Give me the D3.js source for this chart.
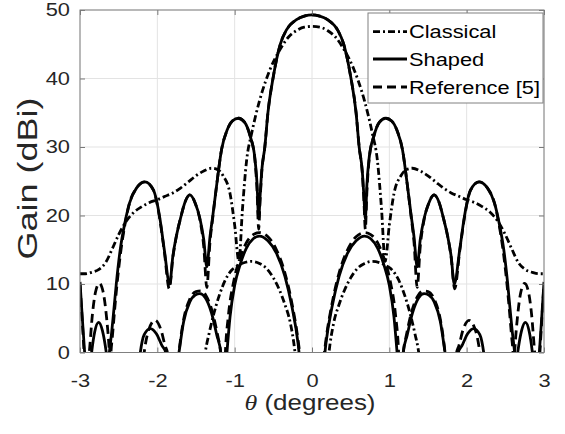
<!DOCTYPE html>
<html>
<head>
<meta charset="utf-8">
<script src="https://cdn.jsdelivr.net/npm/d3@7"></script>
<style>
  body { margin: 0; background: #fff; }
  svg { display: block; font-family: "Liberation Sans", Arial, sans-serif; }
</style>
</head>
<body>
<div id="chart"></div>
<script>
// theta in degrees, gain in dBi (values under 0 are below the axis and get clipped)
const classicalCo = [
  [-3.00,11.5],[-2.93,11.5],[-2.85,11.7],[-2.76,12.1],[-2.67,13.1],[-2.58,15.2],[-2.50,17.2],[-2.40,19.2],
  [-2.30,20.5],[-2.20,21.3],[-2.10,21.9],[-2.00,22.3],[-1.90,22.8],[-1.80,23.3],[-1.70,24.0],[-1.60,24.9],
  [-1.50,25.8],[-1.40,26.5],[-1.30,26.9],[-1.22,26.7],[-1.15,25.8],[-1.06,23.2],[-1.00,18.6],[-0.945,13.3],
  [-0.90,20.8],[-0.845,28.1],[-0.78,32.0],[-0.68,36.7],[-0.60,39.6],[-0.54,41.4],[-0.41,44.3],[-0.30,46.1],
  [-0.20,47.0],[-0.10,47.5],[0,47.6],
  [0.10,47.5],[0.20,47.0],[0.30,46.1],[0.41,44.3],[0.54,41.4],[0.60,39.6],[0.68,36.7],[0.78,32.0],
  [0.845,28.1],[0.90,20.8],[0.945,13.3],[1.00,18.6],[1.06,23.2],[1.15,25.8],[1.22,26.7],[1.30,26.9],
  [1.40,26.5],[1.50,25.8],[1.60,24.9],[1.70,24.0],[1.80,23.3],[1.90,22.8],[2.00,22.3],[2.10,21.9],
  [2.20,21.3],[2.30,20.5],[2.40,19.2],[2.50,17.2],[2.58,15.2],[2.67,13.1],[2.76,12.1],[2.85,11.7],
  [2.93,11.5],[3.00,11.5]
];
const classicalX = [
  [-3.00,-25],[-1.50,-12],[-1.42,-4],[-1.38,0],[-1.33,2.8],[-1.28,5.2],[-1.20,8.3],[-1.12,10.6],
  [-1.04,12.0],[-0.97,12.6],[-0.88,13.1],[-0.78,13.3],[-0.68,13.0],[-0.59,12.3],[-0.50,10.9],[-0.42,9.1],
  [-0.35,7.0],[-0.28,4.3],[-0.22,0],[-0.18,-5],[0,-25],
  [0.18,-5],[0.22,0],[0.28,4.3],[0.35,7.0],[0.42,9.1],[0.50,10.9],[0.59,12.3],[0.68,13.0],
  [0.78,13.3],[0.88,13.1],[0.97,12.6],[1.04,12.0],[1.12,10.6],[1.20,8.3],[1.28,5.2],[1.33,2.8],
  [1.38,0],[1.42,-4],[1.50,-12],[3.00,-25]
];
const shapedCo = [
  [-3.00,10.3],[-2.97,5.0],[-2.94,0],[-2.90,-6],[-2.77,-14],[-2.66,-6],[-2.62,0],[-2.59,3.0],
  [-2.56,6.5],[-2.53,10.1],[-2.48,15.0],[-2.42,18.9],[-2.36,21.8],[-2.27,24.0],[-2.16,24.9],[-2.05,23.7],
  [-1.97,19.8],[-1.91,15.0],[-1.84,10.0],[-1.80,14.0],[-1.75,17.2],[-1.70,19.6],[-1.64,22.0],[-1.58,23.0],
  [-1.51,21.8],[-1.45,19.6],[-1.40,16.5],[-1.36,12.5],[-1.32,16.8],[-1.28,20.2],[-1.23,24.7],[-1.17,29.6],
  [-1.10,32.4],[-1.03,33.8],[-0.95,34.2],[-0.87,33.6],[-0.80,31.6],[-0.74,28.5],[-0.71,24.5],[-0.69,19.5],
  [-0.67,23.0],[-0.65,26.5],[-0.61,30.0],[-0.57,35.0],[-0.50,40.3],[-0.41,45.0],[-0.33,47.1],[-0.20,48.6],
  [-0.10,49.1],[0,49.3],
  [0.10,49.1],[0.20,48.6],[0.33,47.1],[0.41,45.0],[0.50,40.3],[0.57,35.0],[0.61,30.0],[0.65,26.5],
  [0.67,23.0],[0.69,19.5],[0.71,24.5],[0.74,28.5],[0.80,31.6],[0.87,33.6],[0.95,34.2],[1.03,33.8],
  [1.10,32.4],[1.17,29.6],[1.23,24.7],[1.28,20.2],[1.32,16.8],[1.36,12.5],[1.40,16.5],[1.45,19.6],
  [1.51,21.8],[1.58,23.0],[1.64,22.0],[1.70,19.6],[1.75,17.2],[1.80,14.0],[1.84,10.0],[1.91,15.0],
  [1.97,19.8],[2.05,23.7],[2.16,24.9],[2.27,24.0],[2.36,21.8],[2.42,18.9],[2.48,15.0],[2.53,10.1],
  [2.56,6.5],[2.59,3.0],[2.62,0],[2.66,-6],[2.77,-14],[2.90,-6],[2.94,0],[2.97,5.0],[3.00,10.3]
];
const shapedX = [
  [-3.00,-12],[-2.90,-6],[-2.85,0],[-2.81,3.0],[-2.76,4.4],[-2.71,3.2],[-2.66,0],[-2.60,-6],
  [-2.40,-12],[-2.25,-3],[-2.22,0],[-2.17,2.6],[-2.09,3.5],[-2.01,2.7],[-1.94,1.0],[-1.89,0],
  [-1.84,-5],[-1.78,-5],[-1.72,0],[-1.66,4.5],[-1.58,7.4],[-1.51,8.4],[-1.45,8.6],[-1.38,8.0],
  [-1.30,5.8],[-1.23,2.5],[-1.18,0],[-1.14,-6],[-1.10,0],[-1.06,5.2],[-1.00,9.8],[-0.93,12.8],
  [-0.85,15.2],[-0.76,16.6],[-0.68,17.0],[-0.57,16.3],[-0.46,14.5],[-0.35,11.1],[-0.26,6.7],[-0.18,1.3],
  [-0.15,-2],[-0.08,-12],[0,-20],
  [0.08,-12],[0.15,-2],[0.18,1.3],[0.26,6.7],[0.35,11.1],[0.46,14.5],[0.57,16.3],[0.68,17.0],
  [0.76,16.6],[0.85,15.2],[0.93,12.8],[1.00,9.8],[1.06,5.2],[1.10,0],[1.14,-6],[1.18,0],
  [1.23,2.5],[1.30,5.8],[1.38,8.0],[1.45,8.6],[1.51,8.4],[1.58,7.4],[1.66,4.5],[1.72,0],
  [1.78,-5],[1.84,-5],[1.89,0],[1.94,1.0],[2.01,2.7],[2.09,3.5],[2.17,2.6],[2.22,0],
  [2.25,-3],[2.40,-12],[2.60,-6],[2.66,0],[2.71,3.2],[2.76,4.4],[2.81,3.0],[2.85,0],[2.90,-6],[3.00,-12]
];
const refCo = [
  [-3.00,10.0],[-2.97,4.5],[-2.94,-1],[-2.91,-3],[-2.88,0],[-2.84,5.5],[-2.80,8.8],[-2.75,10.1],
  [-2.70,8.8],[-2.66,5.5],[-2.62,0],[-2.61,-2],[-2.60,0],[-2.58,2.5],[-2.55,6.5],[-2.52,10.1],
  [-2.47,15.0],[-2.42,18.6],[-2.36,21.8],[-2.27,24.0],[-2.16,24.9],[-2.05,23.7],[-1.97,19.6],[-1.91,14.8],
  [-1.845,9.3],[-1.80,13.8],[-1.75,17.2],[-1.70,19.6],[-1.64,22.0],[-1.58,23.0],[-1.51,21.8],[-1.45,19.4],
  [-1.40,15.5],[-1.36,9.5],[-1.32,16.0],[-1.28,20.0],[-1.23,24.7],[-1.17,29.6],[-1.10,32.4],[-1.03,33.8],
  [-0.95,34.2],[-0.87,33.6],[-0.80,31.6],[-0.74,28.3],[-0.71,23.5],[-0.69,18.0],[-0.67,22.5],[-0.65,26.3],
  [-0.61,30.0],[-0.57,35.0],[-0.50,40.3],[-0.41,45.0],[-0.33,47.1],[-0.20,48.6],[-0.10,49.1],[0,49.3],
  [0.10,49.1],[0.20,48.6],[0.33,47.1],[0.41,45.0],[0.50,40.3],[0.57,35.0],[0.61,30.0],[0.65,26.3],
  [0.67,22.5],[0.69,18.0],[0.71,23.5],[0.74,28.3],[0.80,31.6],[0.87,33.6],[0.95,34.2],[1.03,33.8],
  [1.10,32.4],[1.17,29.6],[1.23,24.7],[1.28,20.0],[1.32,16.0],[1.36,9.5],[1.40,15.5],[1.45,19.4],
  [1.51,21.8],[1.58,23.0],[1.64,22.0],[1.70,19.6],[1.75,17.2],[1.80,13.8],[1.845,9.3],[1.91,14.8],
  [1.97,19.6],[2.05,23.7],[2.16,24.9],[2.27,24.0],[2.36,21.8],[2.42,18.6],[2.47,15.0],[2.52,10.1],
  [2.55,6.5],[2.58,2.5],[2.60,0],[2.61,-2],[2.62,0],[2.66,5.5],[2.70,8.8],[2.75,10.1],[2.80,8.8],
  [2.84,5.5],[2.88,0],[2.91,-3],[2.94,-1],[2.97,4.5],[3.00,10.0]
];
const refX = [
  [-3.00,-12],[-2.40,-12],[-2.20,-3],[-2.17,0],[-2.12,3.0],[-2.03,4.7],[-1.95,3.2],[-1.90,1.0],
  [-1.87,0],[-1.82,-5],[-1.76,-5],[-1.72,0],[-1.66,4.8],[-1.58,7.8],[-1.50,8.9],[-1.44,9.0],
  [-1.37,8.3],[-1.29,6.0],[-1.22,2.5],[-1.18,0],[-1.14,-6],[-1.12,0],[-1.08,5.5],[-1.01,10.5],
  [-0.93,13.8],[-0.85,16.0],[-0.76,17.2],[-0.68,17.5],[-0.57,16.9],[-0.46,15.0],[-0.35,11.6],[-0.26,7.2],
  [-0.18,1.8],[-0.15,-1],[-0.08,-12],[0,-20],
  [0.08,-12],[0.15,-1],[0.18,1.8],[0.26,7.2],[0.35,11.6],[0.46,15.0],[0.57,16.9],[0.68,17.5],
  [0.76,17.2],[0.85,16.0],[0.93,13.8],[1.01,10.5],[1.08,5.5],[1.12,0],[1.14,-6],[1.18,0],
  [1.22,2.5],[1.29,6.0],[1.37,8.3],[1.44,9.0],[1.50,8.9],[1.58,7.8],[1.66,4.8],[1.72,0],
  [1.76,-5],[1.82,-5],[1.87,0],[1.90,1.0],[1.95,3.2],[2.03,4.7],[2.12,3.0],[2.17,0],[2.20,-3],
  [2.40,-12],[3.00,-12]
];

const xTicks = [-3, -2, -1, 0, 1, 2, 3];
const yTicks = [0, 10, 20, 30, 40, 50];
const legendNames = ["Classical", "Shaped", "Reference [5]"];

const margin = {top: 10, right: 21, bottom: 81.5, left: 80};
const W = 565, H = 434;
const width = W - margin.left - margin.right;
const height = H - margin.top - margin.bottom;
const SX = 1.18; // the picture's text is a little wider than it is tall

const dashes = {classical: "7,3,2,3", shaped: null, reference: "9,5"};

const svg = d3.select("#chart")
    .append("svg")
    .attr("width", W)
    .attr("height", H);

const g = svg.append("g")
    .attr("transform", "translate(" + margin.left + "," + margin.top + ")");

const x = d3.scaleLinear().domain([-3, 3]).range([0, width]);
const y = d3.scaleLinear().domain([0, 50]).range([height, 0]);

// grid
g.selectAll(".gx")
    .data(xTicks)
    .enter()
    .append("line")
    .attr("x1", d => x(d)).attr("x2", d => x(d))
    .attr("y1", 0).attr("y2", height)
    .style("stroke", "#e3e3e3").style("stroke-width", 1);
g.selectAll(".gy")
    .data(yTicks)
    .enter()
    .append("line")
    .attr("x1", 0).attr("x2", width)
    .attr("y1", d => y(d)).attr("y2", d => y(d))
    .style("stroke", "#e3e3e3").style("stroke-width", 1);

g.append("clipPath")
    .attr("id", "clip")
    .append("rect")
    .attr("width", width)
    .attr("height", height);

const line = d3.line()
    .x(d => x(d[0]))
    .y(d => y(d[1]))
    .curve(d3.curveMonotoneX);

const series = [
    {data: classicalX, dash: dashes.classical},
    {data: refX, dash: dashes.reference},
    {data: shapedX, dash: dashes.shaped},
    {data: classicalCo, dash: dashes.classical},
    {data: refCo, dash: dashes.reference},
    {data: shapedCo, dash: dashes.shaped}
];

const plot = g.append("g").attr("clip-path", "url(#clip)");
series.forEach(s => {
    plot.append("path")
        .datum(s.data)
        .attr("d", line)
        .style("fill", "none")
        .style("stroke", "#000")
        .style("stroke-width", 2.8)
        .style("stroke-dasharray", s.dash);
});

// axes, ticks point inward
const fmt = d => String(d);
const xAxis = d3.axisBottom(x).tickValues(xTicks).tickSize(-5).tickPadding(21).tickFormat(fmt);
const yAxis = d3.axisLeft(y).tickValues(yTicks).tickSize(-5).tickPadding(10).tickFormat(fmt);
const xTop = d3.axisTop(x).tickValues(xTicks).tickSize(-5).tickFormat("");
const yRight = d3.axisRight(y).tickValues(yTicks).tickSize(-5).tickFormat("");

const styleAxis = sel => {
    sel.select(".domain").remove();
    sel.selectAll(".tick line").style("stroke", "#5a5a5a").style("stroke-width", 0.8);
    sel.selectAll("text")
        .style("font-size", "18.5px")
        .style("fill", "#262626");
};

g.append("g").attr("transform", "translate(0," + height + ")").call(xAxis).call(styleAxis)
    .selectAll("text").attr("transform", "scale(" + SX + ",1)");
g.append("g").call(yAxis).call(styleAxis)
    .selectAll("text").attr("x", -10 / SX).attr("transform", "scale(" + SX + ",1)");
g.append("g").call(xTop).call(styleAxis);
g.append("g").attr("transform", "translate(" + width + ",0)").call(yRight).call(styleAxis);

g.append("rect")
    .attr("width", width)
    .attr("height", height)
    .style("fill", "none")
    .style("stroke", "#808080")
    .style("stroke-width", 1);

// axis titles
const xt = svg.append("g")
    .attr("transform", "translate(310,410) scale(" + SX + ",1)")
    .append("text")
    .attr("text-anchor", "middle")
    .style("font-size", "22px")
    .style("fill", "#262626");
xt.append("tspan")
    .style("font-family", "'Liberation Serif', serif")
    .style("font-style", "italic")
    .text("θ");
xt.append("tspan").text(" (degrees)");

svg.append("g")
    .attr("transform", "translate(37,178.5) rotate(-90) scale(1.5,1.15)")
    .append("text")
    .attr("text-anchor", "middle")
    .style("font-size", "24px")
    .style("fill", "#262626")
    .text("Gain (dBi)");

// legend
const legend = svg.append("g");
legend.append("rect")
    .attr("x", 368).attr("y", 13)
    .attr("width", 175).attr("height", 90)
    .style("fill", "#fff")
    .style("stroke", "#808080")
    .style("stroke-width", 1);

const legendDash = [dashes.classical, dashes.shaped, dashes.reference];
const rowY = [31.7, 59, 87];
legendNames.forEach((name, i) => {
    legend.append("line")
        .attr("x1", 373).attr("x2", 407)
        .attr("y1", rowY[i]).attr("y2", rowY[i])
        .style("stroke", "#000")
        .style("stroke-width", 2.8)
        .style("stroke-dasharray", legendDash[i]);
    legend.append("g")
        .attr("transform", "translate(409," + (rowY[i] + 6.6) + ") scale(" + SX + ",1)")
        .append("text")
        .style("font-size", "18.5px")
        .style("fill", "#000")
        .text(name);
});
</script>
</body>
</html>
